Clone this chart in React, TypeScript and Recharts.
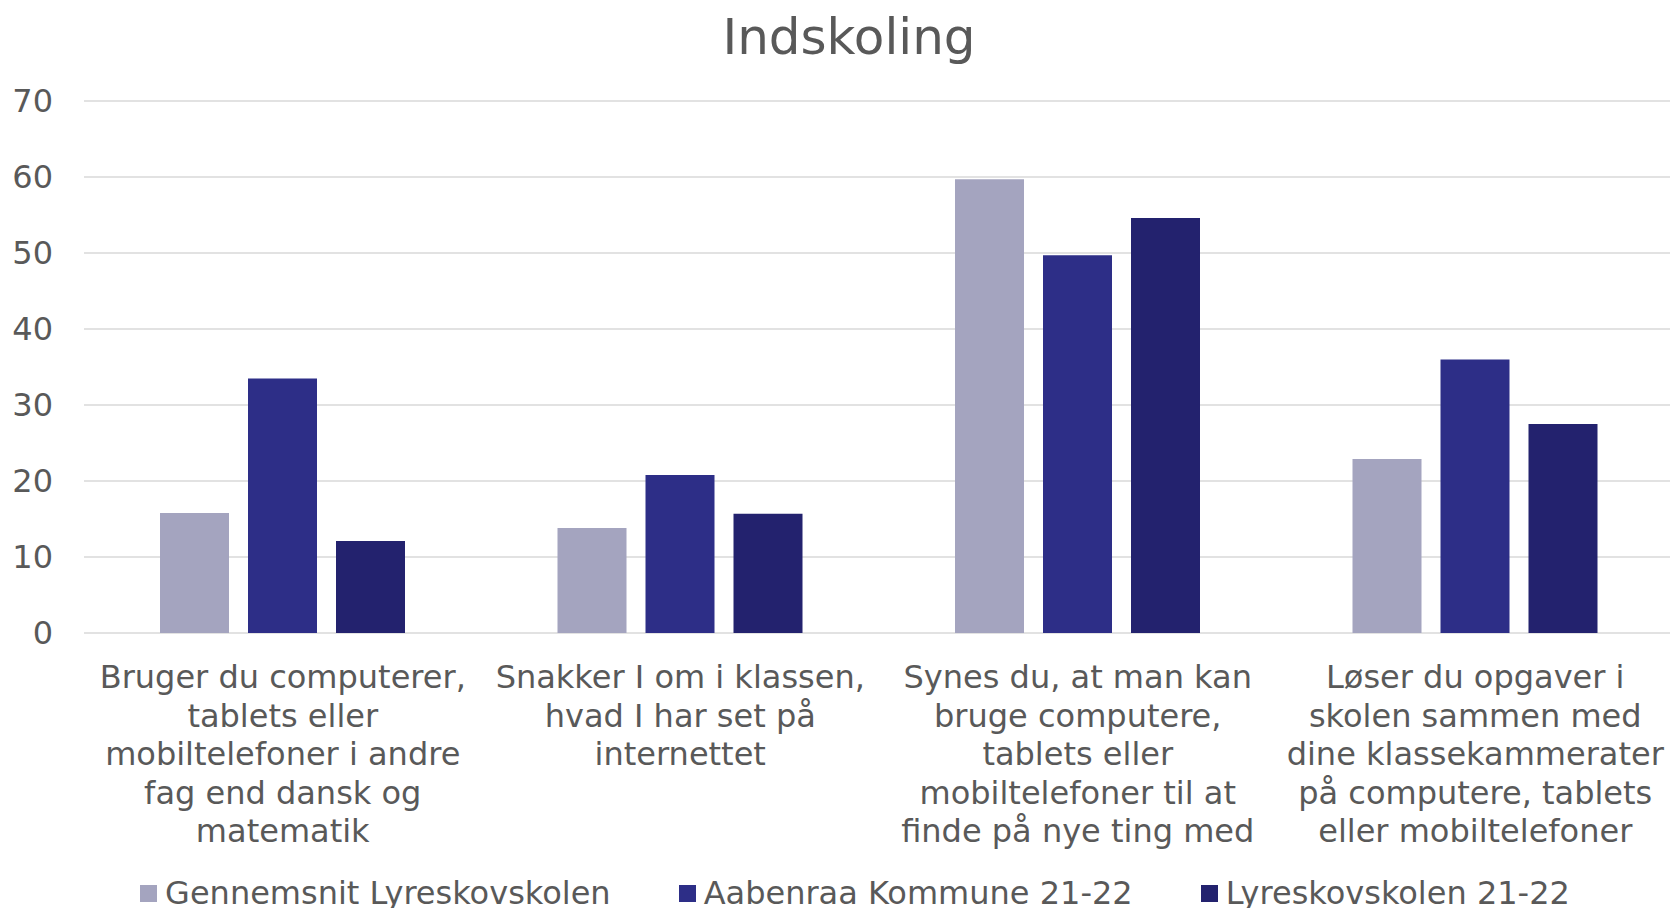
import { Bar, BarChart, CartesianGrid, Legend, XAxis, YAxis } from "recharts";

const title = "Indskoling";

const categories = [
  "Bruger du computerer,\ntablets eller\nmobiltelefoner i andre\nfag end dansk og\nmatematik",
  "Snakker I om i klassen,\nhvad I har set på\ninternettet",
  "Synes du, at man kan\nbruge computere,\ntablets eller\nmobiltelefoner til at\nfinde på nye ting med",
  "Løser du opgaver i\nskolen sammen med\ndine klassekammerater\npå computere, tablets\neller mobiltelefoner",
];

const gennemsnit = [15.8, 13.8, 59.7, 22.9];
const aabenraa = [33.5, 20.8, 49.7, 36.0];
const lyreskov = [12.1, 15.7, 54.6, 27.5];

const yTicks = [0, 10, 20, 30, 40, 50, 60, 70];

const series = [
  { key: "gennemsnit", label: "Gennemsnit Lyreskovskolen", color: "#A4A4BF" },
  { key: "aabenraa", label: "Aabenraa Kommune 21-22", color: "#2D2E87" },
  { key: "lyreskov", label: "Lyreskovskolen 21-22", color: "#23226E" },
];

const data = categories.map((category, i) => ({
  category,
  gennemsnit: gennemsnit[i],
  aabenraa: aabenraa[i],
  lyreskov: lyreskov[i],
}));

const FONT = "'DejaVu Sans', Verdana, sans-serif";
const TEXT = "#595959";
const GRID = "#D9D9D9";
const FS = 32;

function CategoryTick({ x, y, payload }: any) {
  const lines = String(payload.value).split("\n");
  return (
    <text x={x} y={y + 55} textAnchor="middle" fill={TEXT} fontSize={FS} fontFamily={FONT}>
      {lines.map((line, i) => (
        <tspan key={i} x={x} dy={i === 0 ? 0 : 38.6}>
          {line}
        </tspan>
      ))}
    </text>
  );
}

// keep the legend in series order (recharts sorts the payload by name)
function LegendContent() {
  return (
    <div
      style={{
        display: "flex",
        justifyContent: "center",
        gap: 68,
        paddingLeft: 36,
        paddingTop: 5,
        fontSize: FS,
        lineHeight: "40px",
        color: TEXT,
        fontFamily: FONT,
        whiteSpace: "nowrap",
      }}
    >
      {series.map((s) => (
        <span key={s.key} style={{ display: "flex", alignItems: "center" }}>
          <span style={{ width: 17, height: 17, background: s.color, marginRight: 8 }} />
          {s.label}
        </span>
      ))}
    </div>
  );
}

export default function App() {
  return (
    <div
      style={{
        position: "absolute",
        left: 0,
        top: 0,
        width: 1670,
        height: 908,
        overflow: "hidden",
        background: "#fff",
        fontFamily: FONT,
      }}
    >
      <BarChart
        width={1674}
        height={908}
        data={data}
        margin={{ top: 101, right: 0, bottom: 0, left: 0 }}
        barSize={69}
        barGap={19}
      >
        <CartesianGrid stroke={GRID} strokeWidth={1.5} vertical={false} />
        <XAxis
          dataKey="category"
          interval={0}
          axisLine={false}
          tickLine={false}
          tickSize={0}
          tickMargin={0}
          height={235}
          tick={<CategoryTick />}
        />
        <YAxis
          domain={[0, 70]}
          ticks={yTicks}
          width={84}
          axisLine={false}
          tickLine={false}
          tickSize={0}
          tickMargin={31}
          tick={{ fill: TEXT, fontSize: FS, fontFamily: FONT }}
        />
        <Legend verticalAlign="bottom" height={40} content={<LegendContent />} />
        {series.map((s) => (
          <Bar
            key={s.key}
            dataKey={s.key}
            name={s.label}
            fill={s.color}
            isAnimationActive={false}
          />
        ))}
      </BarChart>
      <div
        style={{
          position: "absolute",
          top: 12,
          left: 0,
          width: 1670,
          boxSizing: "border-box",
          paddingLeft: 28,
          textAlign: "center",
          fontSize: 50,
          lineHeight: "50px",
          color: TEXT,
        }}
      >
        {title}
      </div>
    </div>
  );
}
